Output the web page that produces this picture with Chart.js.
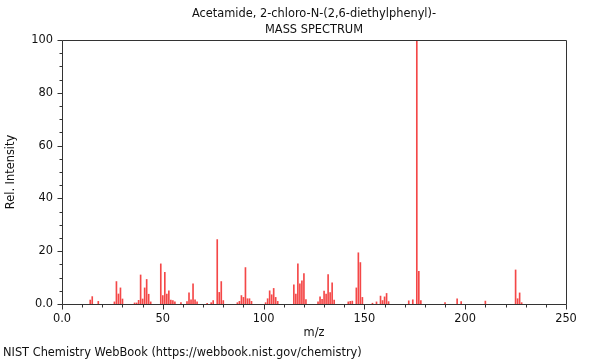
<!DOCTYPE html>
<html>
<head>
<meta charset="utf-8">
<script src="https://cdn.jsdelivr.net/npm/chart.js@4/dist/chart.umd.min.js"></script>
<style>
  body { margin: 0; background: #fff; }
  canvas { display: block; }
</style>
</head>
<body>
<canvas id="spectrum" width="600" height="360"></canvas>
<script>
const titleLines = ["Acetamide, 2-chloro-N-(2,6-diethylphenyl)-", "MASS SPECTRUM"];
const footerText = "NIST Chemistry WebBook (https://webbook.nist.gov/chemistry)";

// m/z values and relative intensities
const mz = [14, 15, 18, 26, 27, 28, 29, 30, 36, 37, 38, 39, 40, 41, 42, 43, 44,
  49, 50, 51, 52, 53, 54, 55, 56, 59, 62, 63, 64, 65, 66, 67, 72, 74, 75,
  77, 78, 79, 80, 87, 88, 89, 90, 91, 92, 93, 94, 101, 102, 103, 104, 105, 106, 107,
  115, 116, 117, 118, 119, 120, 121, 127, 128, 129, 130, 131, 132, 133, 134, 135,
  142, 143, 144, 146, 147, 148, 149, 154, 156, 158, 159, 160, 161, 162,
  172, 174, 176, 177, 178, 190, 196, 198, 210, 225, 226, 227, 228];
const intensity = [1.5, 2.8, 1.0, 0.8, 8.5, 3.8, 6.1, 1.9, 0.4, 0.4, 1.4, 11.0, 1.9, 6.1, 9.3, 3.7, 0.8,
  15.2, 3.2, 12.0, 3.8, 5.0, 1.5, 1.3, 0.8, 0.5, 0.9, 4.2, 1.6, 7.6, 1.6, 0.8, 0.3, 0.5, 1.3,
  24.4, 4.4, 8.5, 1.3, 0.5, 1.0, 3.2, 2.5, 13.8, 2.0, 2.0, 1.0, 0.5, 2.0, 5.0, 3.5, 5.9, 2.5, 1.0,
  7.3, 3.8, 15.2, 7.6, 8.8, 11.5, 1.7, 0.8, 2.7, 1.8, 4.9, 3.8, 11.1, 4.3, 8.0, 1.5,
  0.8, 1.0, 1.1, 6.1, 19.4, 15.7, 2.5, 0.3, 0.8, 3.0, 1.3, 2.7, 4.0, 0.9,
  1.2, 1.6, 100, 12.4, 1.3, 0.5, 2.0, 0.9, 1.1, 12.9, 2.0, 4.2, 0.5];

const xTicks = [0, 50, 100, 150, 200, 250];
const yTicks = [0, 20, 40, 60, 80, 100];

const fontFamily = "'DejaVu Sans', sans-serif";
const fontSize = 11.4;
const axisColor = "#333";

// frame, minor/major tick marks, titles and footer
const decorations = {
  id: "decorations",
  afterDraw(chart) {
    const { ctx, chartArea: a } = chart;
    const xs = chart.scales.x, ys = chart.scales.y;
    ctx.save();
    ctx.strokeStyle = axisColor;
    ctx.lineWidth = 1;
    ctx.beginPath();
    ctx.rect(a.left + 0.5, a.top + 0.5, a.right - a.left, a.bottom - a.top);
    for (let v = 0; v <= 100; v += 5) {
      const y = Math.round(ys.getPixelForValue(v)) + 0.5;
      const len = v % 20 === 0 ? 5 : 3;
      ctx.moveTo(a.left + 0.5 - len, y);
      ctx.lineTo(a.left + 0.5, y);
    }
    for (let v = 0; v <= 250; v += 10) {
      const x = Math.round(xs.getPixelForValue(v)) + 0.5;
      const len = v % 50 === 0 ? 5 : 3;
      ctx.moveTo(x, a.bottom + 0.5);
      ctx.lineTo(x, a.bottom + 0.5 + len);
    }
    ctx.stroke();

    ctx.fillStyle = "#111";
    ctx.font = fontSize + "px " + fontFamily;
    ctx.textAlign = "center";
    ctx.textBaseline = "middle";
    const cx = (a.left + a.right) / 2;
    ctx.fillText(titleLines[0], cx, 14);
    ctx.fillText(titleLines[1], cx, 30);
    ctx.textAlign = "left";
    ctx.fillText(footerText, 3, 353);
    ctx.restore();
  }
};

new Chart(document.getElementById("spectrum"), {
  type: "bar",
  data: {
    datasets: [{
      data: mz.map((m, i) => ({ x: m, y: intensity[i] })),
      backgroundColor: "rgba(240, 0, 0, 0.72)",
      barThickness: 1,
      grouped: false
    }]
  },
  options: {
    responsive: false,
    animation: false,
    layout: { padding: { top: 40, right: 34, left: 0, bottom: 0 } },
    plugins: { legend: { display: false }, tooltip: { enabled: false }, title: { display: false } },
    scales: {
      x: {
        type: "linear",
        offset: false,
        min: 0,
        max: 250,
        afterFit: (s) => { s.height = 56; },
        afterBuildTicks: (s) => { s.ticks = xTicks.map((v) => ({ value: v })); },
        grid: { display: false, drawTicks: false, offset: false },
        border: { display: false },
        ticks: {
          padding: 8,
          maxRotation: 0,
          color: "#111",
          font: { family: fontFamily, size: fontSize },
          callback: (v) => (v === 0 ? "0.0" : v)
        },
        title: {
          display: true,
          text: "m/z",
          color: "#111",
          font: { family: fontFamily, size: fontSize },
          padding: { top: 0, bottom: 20 }
        }
      },
      y: {
        min: 0,
        max: 100,
        afterFit: (s) => { s.width = 62; },
        afterBuildTicks: (s) => { s.ticks = yTicks.map((v) => ({ value: v })); },
        grid: { display: false, drawTicks: false },
        border: { display: false },
        ticks: {
          padding: 9,
          color: "#111",
          font: { family: fontFamily, size: fontSize },
          callback: (v) => (v === 0 ? "0.0" : v)
        },
        title: {
          display: true,
          text: "Rel. Intensity",
          color: "#111",
          font: { family: fontFamily, size: fontSize },
          padding: { top: 4, bottom: 0 }
        }
      }
    }
  },
  plugins: [decorations]
});
</script>
</body>
</html>
